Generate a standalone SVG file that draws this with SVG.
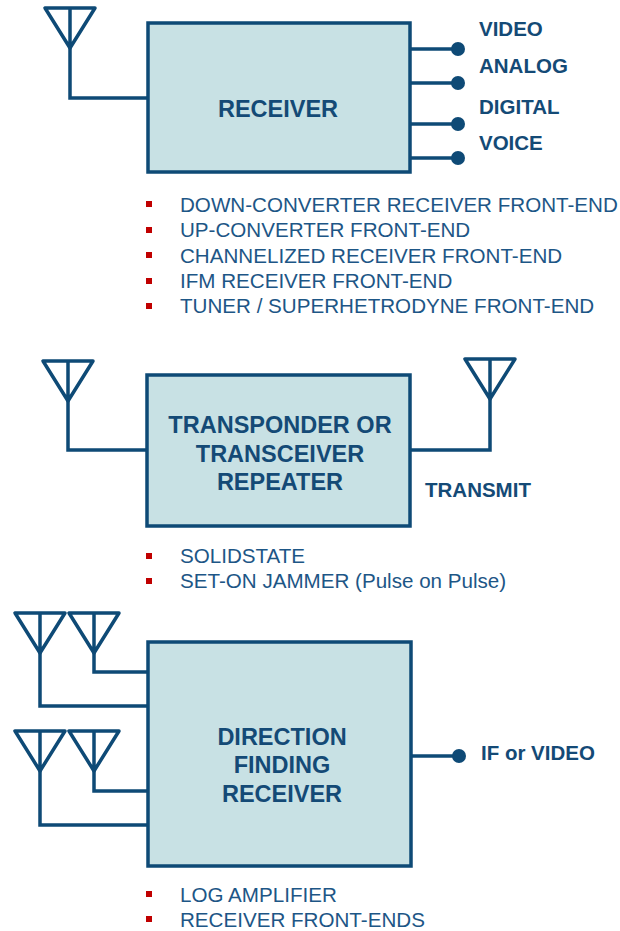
<svg xmlns="http://www.w3.org/2000/svg" width="620" height="931" viewBox="0 0 620 931">
<defs>
<style>
.box{fill:#c8e1e4;stroke:#0e4a76;stroke-width:3.5}
.ln{fill:none;stroke:#0e4a76;stroke-width:3.5;stroke-linejoin:miter;stroke-linecap:square}
.ant{fill:none;stroke:#0e4a76;stroke-width:3.5;stroke-linejoin:round}
.dot{fill:#0e4a76}
.t{font-family:"Liberation Sans",Arial,sans-serif;font-weight:bold;fill:#144a76;font-size:23.5px;text-anchor:middle}
.lb{font-family:"Liberation Sans",Arial,sans-serif;font-weight:bold;fill:#144a76;font-size:20.5px}
.bt{font-family:"Liberation Sans",Arial,sans-serif;fill:#1d5686;font-size:20.6px}
.bl{fill:#c00000}
</style>
<g id="antenna"><path class="ant" d="M-25,0 H25 L0,40 Z M0,0 V40"/></g>
</defs>

<g id="connectors">
<path class="ln" d="M70,47 V98 H148"/>
<path class="ln" d="M410,49 H458"/>
<path class="ln" d="M410,83 H458"/>
<path class="ln" d="M410,124 H458"/>
<path class="ln" d="M410,158 H458"/>
<circle class="dot" cx="458" cy="49" r="7"/>
<circle class="dot" cx="458" cy="83" r="7"/>
<circle class="dot" cx="458" cy="124" r="7"/>
<circle class="dot" cx="458" cy="158" r="7"/>
<path class="ln" d="M68,399 V450 H147"/>
<path class="ln" d="M490,398 V450 H410"/>
<path class="ln" d="M94,652 V672 H148"/>
<path class="ln" d="M40,652 V706 H148"/>
<path class="ln" d="M94,771 V791 H148"/>
<path class="ln" d="M40,771 V825 H148"/>
<path class="ln" d="M411,756 H459"/>
<circle class="dot" cx="459" cy="756" r="7"/>
</g>

<g id="receiver">
<use href="#antenna" x="70" y="8"/>
<rect class="box" x="148" y="23" width="262" height="149"/>
<text class="t" x="278" y="117">RECEIVER</text>
<text class="lb" x="479" y="36">VIDEO</text>
<text class="lb" x="479" y="73">ANALOG</text>
<text class="lb" x="479" y="114">DIGITAL</text>
<text class="lb" x="479" y="150">VOICE</text>
<rect class="bl" x="146" y="201" width="6" height="6"/>
<rect class="bl" x="146" y="227" width="6" height="6"/>
<rect class="bl" x="146" y="252" width="6" height="6"/>
<rect class="bl" x="146" y="278" width="6" height="6"/>
<rect class="bl" x="146" y="303" width="6" height="6"/>
<text class="bt" x="180" y="212">DOWN-CONVERTER RECEIVER FRONT-END</text>
<text class="bt" x="180" y="237">UP-CONVERTER FRONT-END</text>
<text class="bt" x="180" y="263">CHANNELIZED RECEIVER FRONT-END</text>
<text class="bt" x="180" y="288">IFM RECEIVER FRONT-END</text>
<text class="bt" x="180" y="313">TUNER / SUPERHETRODYNE FRONT-END</text>
</g>

<g id="transponder">
<use href="#antenna" x="68" y="361"/>
<use href="#antenna" x="490" y="359"/>
<rect class="box" x="147" y="375" width="263" height="151"/>
<text class="t" x="280" y="433">TRANSPONDER OR</text>
<text class="t" x="280" y="462">TRANSCEIVER</text>
<text class="t" x="280" y="490">REPEATER</text>
<text class="lb" x="425" y="497">TRANSMIT</text>
<rect class="bl" x="146" y="553" width="6" height="6"/>
<rect class="bl" x="146" y="578" width="6" height="6"/>
<text class="bt" x="180" y="563">SOLIDSTATE</text>
<text class="bt" x="180" y="588">SET-ON JAMMER (Pulse on Pulse)</text>
</g>

<g id="df-receiver">
<use href="#antenna" x="40" y="613"/>
<use href="#antenna" x="94" y="613"/>
<use href="#antenna" x="40" y="731"/>
<use href="#antenna" x="94" y="731"/>
<rect class="box" x="148" y="642" width="263" height="224"/>
<text class="t" x="282" y="745">DIRECTION</text>
<text class="t" x="282" y="773">FINDING</text>
<text class="t" x="282" y="802">RECEIVER</text>
<text class="lb" x="481" y="760">IF or VIDEO</text>
<rect class="bl" x="146" y="891" width="6" height="6"/>
<rect class="bl" x="146" y="916" width="6" height="6"/>
<text class="bt" x="180" y="902">LOG AMPLIFIER</text>
<text class="bt" x="180" y="927">RECEIVER FRONT-ENDS</text>
</g>
</svg>
